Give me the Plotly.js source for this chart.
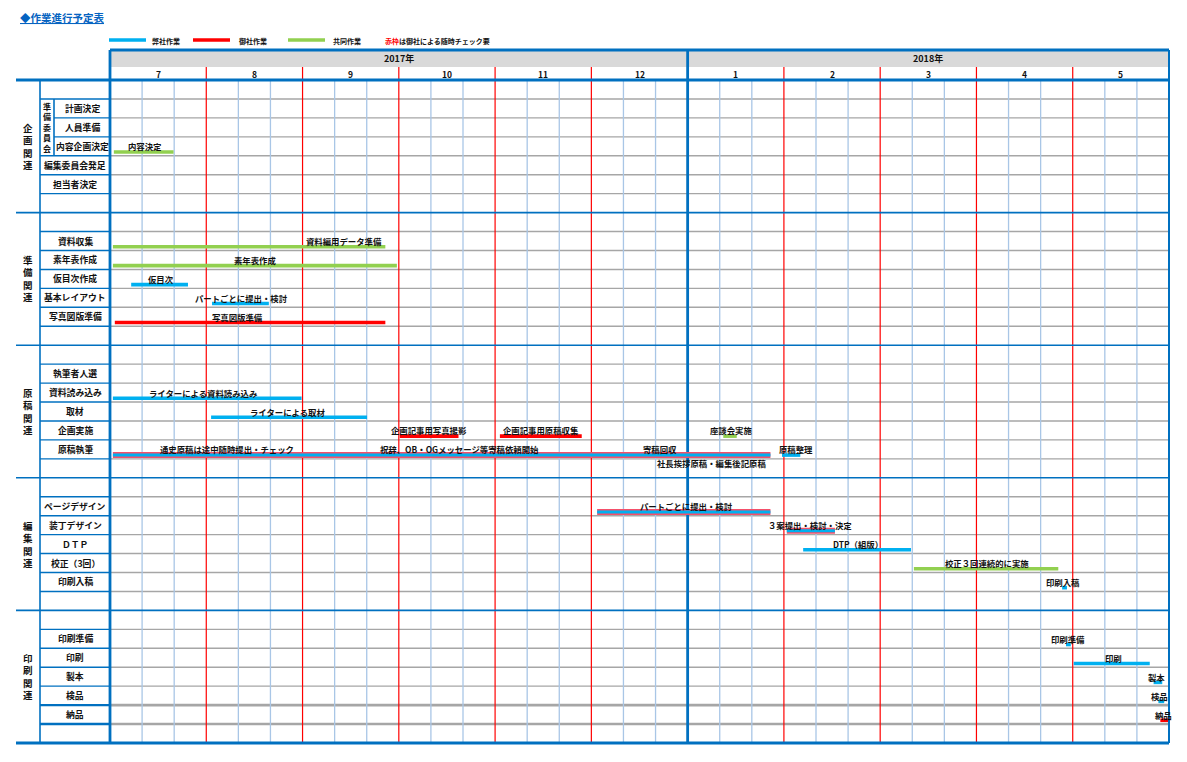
<!DOCTYPE html>
<html><head><meta charset="utf-8">
<script src="https://cdn.plot.ly/plotly-3.0.1.min.js"></script>
<style>html,body{margin:0;padding:0;background:#fff}</style>
</head><body><div id="chart" style="width:1187px;height:762px"></div>
<script>
// ---------------- DATA ----------------
const chartTitle = '◆作業進行予定表';
const yearLabels = ['2017年', '2018年'];
const yearMonthCounts = [6, 5];
const monthLabels = ['7', '8', '9', '10', '11', '12', '1', '2', '3', '4', '5'];

const sectionLabels = ['企画関連', '準備関連', '原稿関連', '編集関連', '印刷関連'];
const kikakuRows = ['計画決定', '人員準備', '内容企画決定', '編集委員会発足', '担当者決定'];
const junbiRows = ['資料収集', '素年表作成', '仮目次作成', '基本レイアウト', '写真図版準備'];
const genkoRows = ['執筆者人選', '資料読み込み', '取材', '企画実施', '原稿執筆'];
const henshuRows = ['ページデザイン', '装丁デザイン', 'ＤＴＰ', '校正（3回）', '印刷入稿'];
const insatsuRows = ['印刷準備', '印刷', '製本', '検品', '納品'];
const committeeLabel = '準備委員会';
const committeeRows = ['計画決定', '人員準備', '内容企画決定'];

const legendLabels = ['弊社作業', '御社作業', '共同作業'];
const legendParties = ['弊社', '御社', '共同'];
const legendNoteRed = '赤枠';
const legendNoteRest = 'は御社による随時チェック要';

// tasks (start / end in months from 2017-07 start)
const taskRow   = ['内容企画決定', '資料収集', '素年表作成', '仮目次作成', '基本レイアウト', '写真図版準備',
                   '資料読み込み', '取材', '企画実施', '企画実施', '企画実施', '原稿執筆', '原稿執筆',
                   'ページデザイン', '装丁デザイン', 'ＤＴＰ', '校正（3回）', '印刷入稿',
                   '印刷準備', '印刷', '製本', '検品', '納品'];
const taskStart = [0.04, 0.03, 0.03, 0.22, 1.06, 0.05,
                   0.03, 1.05, 3.01, 4.05, 6.37, 0.03, 6.98,
                   5.06, 7.03, 7.20, 8.35, 9.89,
                   9.93, 10.01, 10.84, 10.89, 10.91];
const taskEnd   = [0.66, 2.86, 2.98, 0.81, 1.65, 2.86,
                   1.99, 2.67, 3.62, 4.90, 6.51, 6.86, 7.17,
                   6.86, 7.53, 8.32, 9.85, 9.94,
                   9.98, 10.80, 10.93, 10.95, 10.99];
const taskParty = ['共同', '共同', '共同', '弊社', '弊社', '御社',
                   '弊社', '弊社', '御社', '御社', '共同', '弊社', '弊社',
                   '弊社', '弊社', '弊社', '共同', '弊社',
                   '弊社', '弊社', '弊社', '弊社', '御社'];
const taskCheck = [false, false, false, false, false, false,
                   false, false, false, false, false, true, false,
                   true, true, false, false, false,
                   false, false, false, false, false];

// notes written on the chart
const noteRow   = ['内容企画決定', '資料収集', '素年表作成', '仮目次作成', '基本レイアウト', '写真図版準備',
                   '資料読み込み', '取材', '企画実施', '企画実施', '企画実施',
                   '原稿執筆', '原稿執筆', '原稿執筆', '原稿執筆', '原稿執筆',
                   'ページデザイン', '装丁デザイン', 'ＤＴＰ', '校正（3回）', '印刷入稿',
                   '印刷準備', '印刷', '製本', '検品', '納品'];
const noteX     = [0.36, 2.43, 1.51, 0.53, 1.37, 1.32,
                   0.97, 1.84, 3.31, 4.48, 6.46,
                   1.22, 3.63, 5.71, 7.13, 6.25,
                   5.99, 7.27, 7.77, 9.11, 9.90,
                   9.95, 10.42, 10.875, 10.90, 10.94];
const noteText  = ['内容決定', '資料編用データ準備', '素年表作成', '仮目次', 'パートごとに提出・検討', '写真図版準備',
                   'ライターによる資料読み込み', 'ライターによる取材', '企画記事用写真撮影', '企画記事用原稿収集', '座談会実施',
                   '通史原稿は途中随時提出・チェック', '祝辞、OB・OGメッセージ等寄稿依頼開始', '寄稿回収', '原稿整理', '社長挨拶原稿・編集後記原稿',
                   'パートごとに提出・検討', '３案提出・検討・決定', 'DTP（組版）', '校正３回連続的に実施', '印刷入稿',
                   '印刷準備', '印刷', '製本', '検品', '納品'];
const notePlace = ['above', 'above', 'above', 'above', 'above', 'above',
                   'above', 'above', 'above', 'above', 'above',
                   'above', 'above', 'above', 'above', 'below',
                   'above', 'above', 'above', 'above', 'above',
                   'above', 'above', 'above', 'above', 'above'];

// ---------------- LAYOUT / STYLE ----------------
const sectionRows = [kikakuRows, junbiRows, genkoRows, henshuRows, insatsuRows];
const W = 1187, H = 762;
const gridL = 110, gridR = 1169, gridT = 80, gridB = 743;
const nMonths = monthLabels.length;
const rowsPerSection = sectionRows.map(r => r.length + 2);
const totalRows = rowsPerSection.reduce((a, b) => a + b, 0);
const monthW = (gridR - gridL) / nMonths;
const rowH = (gridB - gridT) / totalRows;
const xp = px => (px - gridL) / monthW;
const yp = py => (py - gridT) / rowH;

const FONT = 'Noto Sans CJK JP, Noto Sans, sans-serif';
const BORDER = '#0070c0', LIGHT = '#a9c6e6', GRAY = '#a6a6a6', MONTHRED = '#ff0000';
const partyColor = {'弊社': '#00b0f0', '御社': '#ff0000', '共同': '#92d050'};
const checkColor = '#f4506a';

const sectionStart = [];
{ let acc = 0; rowsPerSection.forEach(n => { sectionStart.push(acc); acc += n; }); }
function rowIndex(name) {
  for (let s = 0; s < sectionRows.length; s++) {
    const i = sectionRows[s].indexOf(name);
    if (i >= 0) return sectionStart[s] + 1 + i;
  }
  return -1;
}

const shapes = [];
const annotations = [];
function line(x0, y0, x1, y1, color, width) {
  shapes.push({type: 'line', xref: 'x', yref: 'y', x0, y0, x1, y1, layer: 'below',
               line: {color, width}});
}
function text(x, y, t, size, opts) {
  annotations.push(Object.assign({xref: 'x', yref: 'y', x, y, text: t, showarrow: false,
    xanchor: 'center', yanchor: 'middle',
    font: {family: FONT, size, color: '#111', weight: 'bold'}}, opts || {}));
}

// header gray year band
shapes.push({type: 'rect', xref: 'x', yref: 'y', x0: 0, x1: nMonths, y0: yp(50), y1: yp(67),
             fillcolor: '#d9d9d9', line: {width: 0}, layer: 'below'});

// gray row lines in the grid + blue label separators
const sectionBoundaryRows = new Set(sectionStart.concat([totalRows]));
const committeeSet = committeeRows.map(rowIndex);
const lastLabelRow = rowIndex(insatsuRows[insatsuRows.length - 1]);
for (let r = 1; r < totalRows; r++) {
  if (sectionBoundaryRows.has(r)) continue;
  const heavy = (r === lastLabelRow || r === lastLabelRow + 1);
  line(0, r, nMonths, r, GRAY, heavy ? 2.6 : 1.4);
  const inner = committeeSet.includes(r) && committeeSet.includes(r - 1);
  line(xp(inner ? 54 : 40), r, 0, r, BORDER, heavy ? 2.4 : 1.4);
}
// light column lines (thirds of month)
for (let m = 0; m < nMonths; m++) {
  for (let k = 1; k <= 2; k++) line(m + k / 3, 0, m + k / 3, totalRows, LIGHT, 1.3);
}
// month boundaries
const yearBoundaries = [];
{ let acc = 0; yearMonthCounts.forEach(c => { acc += c; yearBoundaries.push(acc); }); }
for (let m = 1; m < nMonths; m++) {
  if (yearBoundaries.includes(m)) continue;
  line(m, yp(67), m, totalRows, MONTHRED, 1.2);
}
// section boundaries
sectionStart.forEach((s, i) => {
  if (s === 0) return;
  line(xp(16), s, nMonths, s, BORDER, 1.6);
});
line(xp(16), 0, nMonths, 0, BORDER, 2.8);
line(xp(16), totalRows, nMonths, totalRows, BORDER, 2.8);
line(0, yp(50), nMonths, yp(50), BORDER, 2.8);
// verticals
line(0, yp(50), 0, totalRows, BORDER, 2.8);
yearBoundaries.forEach((b, i) => {
  line(b, yp(50), b, totalRows, BORDER, i === yearBoundaries.length - 1 ? 2 : 2.8);
});
line(xp(40), 0, xp(40), totalRows, BORDER, 1.6);
line(xp(54), committeeSet[0], xp(54), committeeSet[committeeSet.length - 1] + 1, BORDER, 1.6);

// header text
{ let acc = 0; yearLabels.forEach((y, i) => {
  text(acc + yearMonthCounts[i] / 2, yp(58.5), y, 9);
  acc += yearMonthCounts[i]; }); }
monthLabels.forEach((m, i) => text(i + 0.5, yp(73.5), m, 8.5));

// section labels (vertical, one text block each)
sectionLabels.forEach((lab, s) => {
  const c = sectionStart[s] + rowsPerSection[s] / 2;
  text(xp(28), c, Array.from(lab).join('<br>'), 9.5);
});
// committee label (vertical)
{
  const c = (committeeSet[0] + committeeSet[committeeSet.length - 1] + 1) / 2;
  text(xp(47), c, Array.from(committeeLabel).join('<br>'), 8);
}
// row labels
sectionRows.forEach((rows, s) => rows.forEach((lab, i) => {
  const r = sectionStart[s] + 1 + i;
  const cx = committeeSet.includes(r) ? xp(82) : xp(75);
  text(cx, r + 0.5, lab, 8.8);
}));

// notes
noteText.forEach((t, i) => {
  const r = rowIndex(noteRow[i]);
  const y = notePlace[i] === 'below' ? r + 1.22 : r + 0.5;
  text(noteX[i], y, t, 8.4);
});

// title & legend
text(xp(18), yp(17), '<u>' + chartTitle + '</u>', 10.5,
     {xanchor: 'left', font: {family: FONT, size: 10.5, color: '#0563c1', weight: 'bold'}});
const legendLineX = [109, 193, 288];
const legendTextX = [150, 237, 331];
legendLabels.forEach((lab, i) => {
  line(xp(legendLineX[i]), yp(40), xp(legendLineX[i] + 37), yp(40), partyColor[legendParties[i]], 3.5);
  text(xp(legendTextX[i]), yp(40.5), lab, 7, {xanchor: 'left'});
});
text(xp(383), yp(40.5), '<span style="color:#ff0000">' + legendNoteRed + '</span>' + legendNoteRest, 7, {xanchor: 'left'});

// bars
const traces = [];
taskRow.forEach((name, i) => {
  const r = rowIndex(name) + 0.8;
  if (taskCheck[i]) {
    traces.push({type: 'scatter', mode: 'lines', x: [taskStart[i], taskEnd[i]], y: [r, r],
      line: {color: checkColor, width: 6}, hoverinfo: 'skip', showlegend: false});
  }
  traces.push({type: 'scatter', mode: 'lines', x: [taskStart[i], taskEnd[i]], y: [r, r],
    line: {color: partyColor[taskParty[i]], width: taskCheck[i] ? 3 : 3.6}, hoverinfo: 'skip', showlegend: false});
});

const layout = {
  width: W, height: H,
  margin: {l: 0, r: 0, t: 0, b: 0, pad: 0},
  paper_bgcolor: '#fff', plot_bgcolor: '#fff',
  showlegend: false,
  xaxis: {range: [xp(0), xp(W)], visible: false, showgrid: false, zeroline: false, fixedrange: true},
  yaxis: {range: [yp(H), yp(0)], visible: false, showgrid: false, zeroline: false, fixedrange: true},
  shapes, annotations
};
Plotly.newPlot('chart', traces, layout, {staticPlot: true, displayModeBar: false});
</script></body></html>
